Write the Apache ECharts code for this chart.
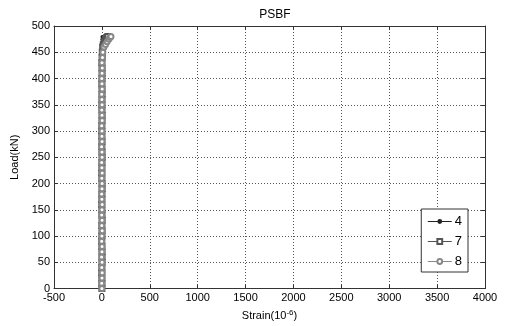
<!DOCTYPE html>
<html>
<head>
<meta charset="utf-8">
<script src="https://cdn.jsdelivr.net/npm/echarts@6/dist/echarts.min.js"></script>
<style>
  html, body { margin: 0; padding: 0; background: #fff; }
  #chart { width: 506px; height: 326px; }
</style>
</head>
<body>
<div id="chart"></div>
<script>
// load steps (kN), shared by the three gauges
var loads = [0, 10, 20, 30, 40, 50, 60, 70, 80, 90, 100, 110, 120, 130, 140, 150, 160, 170, 180, 190,
  200, 210, 220, 230, 240, 250, 260, 270, 280, 290, 300, 310, 320, 330, 340, 350, 360, 370, 380, 390,
  400, 410, 420, 430, 440, 450, 460, 465, 470, 475, 478, 480];
// strain readings (10^-6)
var strain4 = [0, 0, -1, 0, 1, 0, -1, 0, 1, 1, 0, -1, 0, 1, 0, 0, -1, 0, 1, 0,
  0, -1, 0, 1, 0, 1, 0, -1, 0, 0, 1, 0, -1, 0, 1, 0, 0, -1, 0, 1,
  0, 1, 0, -1, 0, 1, 2, 0, -2, 1, 3, 2];
var strain7 = [0, 1, 0, -1, 0, 1, 2, 1, 0, -1, 0, 1, 0, 2, 1, 0, -1, 0, 1, 2,
  1, 0, -1, 0, 1, 2, 1, 0, 1, 0, -1, 0, 1, 2, 1, 0, 1, 2, 1, 0,
  1, 2, 1, 0, 2, 4, 8, 15, 25, 38, 50, 62];
var strain8 = [0, -2, 1, 3, -1, 2, -3, 1, 2, -2, 0, 3, -1, 2, -2, 1, 3, 0, -2, 1,
  2, -1, 3, 0, -2, 2, 1, -3, 2, 0, 1, -2, 3, 1, -1, 2, 0, -2, 3, 1,
  -1, 2, 4, 1, 6, 10, 22, 38, 55, 72, 85, 95];
var xTicks = [-500, 0, 500, 1000, 1500, 2000, 2500, 3000, 3500, 4000];

function pairs(xs) {
  var out = [];
  xs.forEach(function (x, i) { out.push([x, loads[i]]); });
  return out;
}

var chart = echarts.init(document.getElementById('chart'));
var font = 'Liberation Sans, Arial, sans-serif';
var dotted = { type: [1, 2], color: '#555', width: 1 };
var plain = function (v) { return String(v); };

chart.setOption({
  animation: false,
  backgroundColor: '#fff',
  title: {
    text: 'PSBF', left: 270, top: 4, textAlign: 'center',
    textStyle: { fontFamily: font, fontSize: 12, fontWeight: 'normal', color: '#000' }
  },
  grid: { left: 54, right: 21, top: 26, bottom: 30 },
  legend: {
    orient: 'vertical', right: 38, bottom: 54,
    itemWidth: 24, itemHeight: 6, itemGap: 7,
    padding: [6, 6, 4, 6],
    backgroundColor: '#fff', borderColor: '#333', borderWidth: 1,
    lineStyle: { width: 1 },
    textStyle: { fontFamily: font, fontSize: 13, color: '#000', padding: [0, 0, 0, -2] },
    data: ['4', '7', '8']
  },
  xAxis: [{
    type: 'value', min: xTicks[0], max: xTicks[xTicks.length - 1], interval: 500,
    name: '{a|Strain(10}{b|-6}{a|)}', nameLocation: 'middle', nameGap: 16,
    nameTextStyle: { rich: {
      a: { fontFamily: font, fontSize: 11, color: '#000' },
      b: { fontFamily: font, fontSize: 8, color: '#000', verticalAlign: 'top', padding: [0, 0, 6, 0] }
    } },
    axisLine: { show: true, onZero: false, lineStyle: { color: '#333' } },
    axisTick: { show: true, inside: true, length: 4, lineStyle: { color: '#333' } },
    axisLabel: { fontFamily: font, fontSize: 11, color: '#000', margin: 4, formatter: plain },
    splitLine: { show: true, lineStyle: dotted }
  }, {
    type: 'value', position: 'top', min: -500, max: 4000, interval: 500,
    axisLine: { show: true, onZero: false, lineStyle: { color: '#333' } },
    axisTick: { show: true, inside: true, length: 4, lineStyle: { color: '#333' } },
    axisLabel: { show: false }, splitLine: { show: false }
  }],
  yAxis: [{
    type: 'value', min: 0, max: 500, interval: 50,
    name: 'Load(kN)', nameLocation: 'middle', nameGap: 30,
    nameTextStyle: { fontFamily: font, fontSize: 11, color: '#000' },
    axisLine: { show: true, onZero: false, lineStyle: { color: '#333' } },
    axisTick: { show: true, inside: true, length: 4, lineStyle: { color: '#333' } },
    axisLabel: { fontFamily: font, fontSize: 11, color: '#000', margin: 4, formatter: plain },
    splitLine: { show: true, lineStyle: dotted }
  }, {
    type: 'value', position: 'right', min: 0, max: 500, interval: 50,
    axisLine: { show: true, onZero: false, lineStyle: { color: '#333' } },
    axisTick: { show: true, inside: true, length: 4, lineStyle: { color: '#333' } },
    axisLabel: { show: false }, splitLine: { show: false }
  }],
  series: [{
    name: '4', type: 'line', data: pairs(strain4),
    symbol: 'circle', symbolSize: 3,
    itemStyle: { color: '#222' }, lineStyle: { color: '#222', width: 1 }
  }, {
    name: '7', type: 'line', data: pairs(strain7),
    symbol: 'emptyRect', symbolSize: 5,
    itemStyle: { color: '#555', borderWidth: 1 }, lineStyle: { color: '#555', width: 1 }
  }, {
    name: '8', type: 'line', data: pairs(strain8),
    symbol: 'emptyCircle', symbolSize: 5,
    itemStyle: { color: '#888', borderWidth: 1 }, lineStyle: { color: '#888', width: 1 }
  }]
});
</script>
</body>
</html>
